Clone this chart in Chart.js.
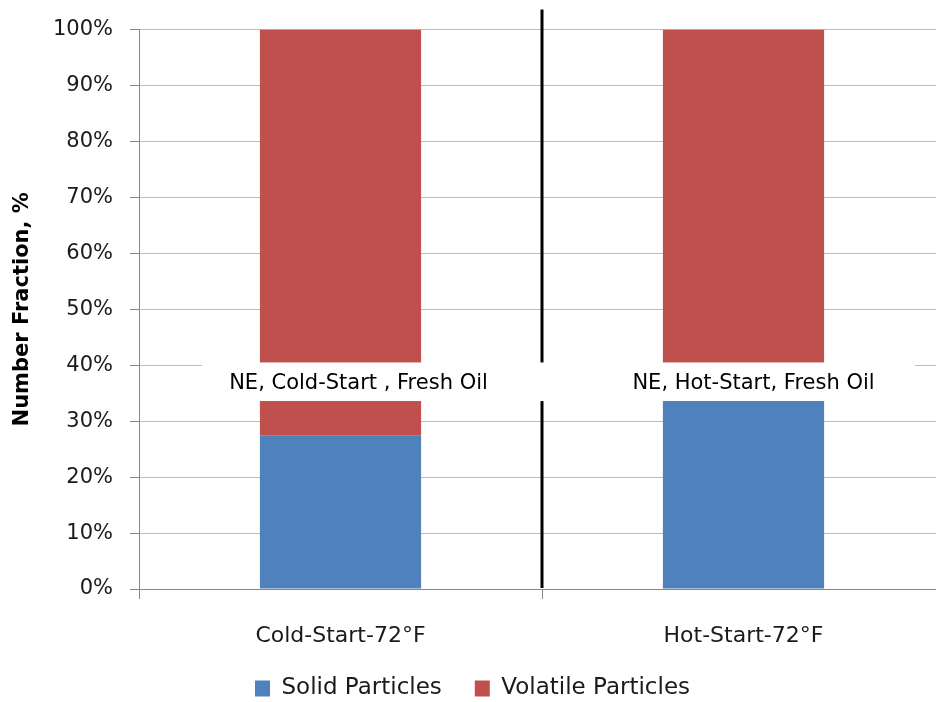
<!DOCTYPE html>
<html>
<head>
<meta charset="utf-8">
<script src="https://cdn.jsdelivr.net/npm/chart.js@4"></script>
<style>
  html, body { margin: 0; padding: 0; background: #fff; overflow: hidden; }
  canvas { display: block; }
</style>
</head>
<body>
<canvas id="fraction-chart" width="950" height="702"></canvas>
<script>
// number fraction (%) per start condition
const categories = ['Cold-Start-72°F', 'Hot-Start-72°F'];
const solidParticles = [27.4, 37];
const volatileParticles = [72.6, 63];
const yTicks = [0, 10, 20, 30, 40, 50, 60, 70, 80, 90, 100];
const groupLabels = ['NE, Cold-Start , Fresh Oil', 'NE, Hot-Start, Fresh Oil'];

const FONT = '"DejaVu Sans", "Liberation Sans", sans-serif';
Chart.defaults.font.family = FONT;
Chart.defaults.color = '#1a1a1a';

// black divider between the groups plus the white label band
const groupLabelPlugin = {
  id: 'groupLabels',
  afterDatasetsDraw(chart) {
    const ctx = chart.ctx;
    const x = chart.scales.x;
    const y = chart.scales.y;
    const area = chart.chartArea;
    const midX = (x.getPixelForValue(0) + x.getPixelForValue(1)) / 2;

    ctx.save();
    ctx.strokeStyle = '#000';
    ctx.lineWidth = 3;
    ctx.beginPath();
    ctx.moveTo(midX, area.top - 20);
    ctx.lineTo(midX, area.bottom - 1);
    ctx.stroke();

    const bandTop = y.getPixelForValue(40.5);
    const bandBottom = y.getPixelForValue(33.6);
    ctx.fillStyle = '#fff';
    ctx.fillRect(area.left + 63, bandTop, 713, bandBottom - bandTop);

    ctx.fillStyle = '#000';
    ctx.font = '21px ' + FONT;
    ctx.textAlign = 'center';
    ctx.textBaseline = 'middle';
    const textY = (bandTop + bandBottom) / 2 + 2;
    ctx.fillText(groupLabels[0], x.getPixelForValue(0) + 18, textY);
    ctx.fillText(groupLabels[1], x.getPixelForValue(1) + 10, textY);
    ctx.restore();
  }
};

new Chart(document.getElementById('fraction-chart'), {
  type: 'bar',
  data: {
    labels: categories,
    datasets: [
      {
        label: 'Solid Particles',
        data: solidParticles,
        backgroundColor: '#4F81BD',
        borderWidth: 0,
      },
      {
        label: 'Volatile Particles',
        data: volatileParticles,
        backgroundColor: '#C0504D',
        borderWidth: 0,
      },
    ],
  },
  options: {
    responsive: false,
    animation: false,
    devicePixelRatio: 1,
    layout: { padding: { top: 29, right: 5, left: 0, bottom: -8 } },
    datasets: {
      bar: { categoryPercentage: 1, barPercentage: 0.4 },
    },
    plugins: {
      tooltip: { enabled: false },
      legend: {
        position: 'bottom',
        labels: {
          boxWidth: 15,
          boxHeight: 16,
          padding: 33,
          color: '#1a1a1a',
          font: { size: 23 },
        },
      },
    },
    scales: {
      x: {
        stacked: true,
        afterFit(scale) { scale.height = 55; },
        grid: {
          offset: true,
          drawOnChartArea: false,
          tickLength: 10,
          color: '#868686',
        },
        border: { color: '#868686' },
        ticks: { padding: 24, font: { size: 22 }, color: '#1a1a1a' },
      },
      y: {
        stacked: true,
        min: 0,
        max: 100,
        afterFit(scale) { scale.width = 139; },
        afterBuildTicks(scale) {
          scale.ticks = yTicks.map(v => ({ value: v }));
        },
        grid: {
          color: '#bdbdbd',
          tickColor: '#868686',
          tickLength: 9,
        },
        border: { color: '#868686' },
        ticks: {
          padding: 17,
          font: { size: 21 },
          color: '#1a1a1a',
          callback: v => v + '%',
        },
        title: {
          display: true,
          text: 'Number Fraction, %',
          color: '#000',
          font: { size: 21, weight: 'bold' },
          padding: 10,
        },
      },
    },
  },
  plugins: [groupLabelPlugin],
});
</script>
</body>
</html>
